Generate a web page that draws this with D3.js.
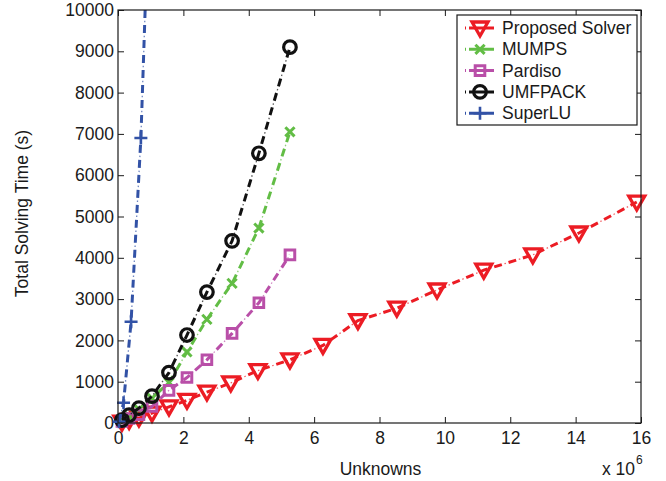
<!DOCTYPE html>
<html>
<head>
<meta charset="utf-8">
<script src="https://cdn.jsdelivr.net/npm/d3@7"></script>
<style>
  body { margin: 0; background: #fff; }
  text { font-family: "Liberation Sans", Arial, Helvetica, sans-serif; fill: #1a1a1a; }
</style>
</head>
<body>
<div id="chart"></div>
<script>
// data (unknowns in units of 10^6, time in s)
var seriesNames = ['Proposed Solver', 'MUMPS', 'Pardiso', 'UMFPACK', 'SuperLU'];
var unknownsDirect = [0.12, 0.34, 0.64, 1.04, 1.56, 2.11, 2.72, 3.49, 4.31, 5.26];
var unknownsProposed = [0.12, 0.34, 0.64, 1.04, 1.56, 2.11, 2.72, 3.45, 4.28, 5.26,
                        6.27, 7.34, 8.53, 9.76, 11.19, 12.69, 14.1, 15.87];
var unknownsSuperLU = [0.03, 0.17, 0.4, 0.7, 1.04];
var timeProposed = [20, 60, 120, 240, 390, 550, 750, 970, 1270, 1530,
                    1880, 2480, 2780, 3220, 3700, 4070, 4600, 5350];
var timeMUMPS = [60, 170, 330, 600, 980, 1720, 2510, 3380, 4720, 7050];
var timePardiso = [40, 110, 200, 400, 790, 1100, 1530, 2170, 2910, 4070];
var timeUMFPACK = [70, 190, 360, 650, 1220, 2130, 3170, 4410, 6530, 9100];
var timeSuperLU = [30, 490, 2450, 6900, 15000];
var xTicks = [0, 2, 4, 6, 8, 10, 12, 14, 16];
var yTicks = [0, 1000, 2000, 3000, 4000, 5000, 6000, 7000, 8000, 9000, 10000];

(function(d3) {
  'use strict';
  var width = 666;
  var height = 481;
  var left = 118, right = 641, top = 10, bottom = 423;
  var tickLen = 6;
  var fontSize = '17.5px';

  var colors = ['#ec1c24', '#62bd45', '#b94fa8', '#111111', '#3252a6'];
  var markers = ['tri', 'x', 'square', 'circle', 'plus'];

  // series table built from the arrays above
  var series = [
    { xs: unknownsProposed, ys: timeProposed },
    { xs: unknownsDirect, ys: timeMUMPS },
    { xs: unknownsDirect, ys: timePardiso },
    { xs: unknownsDirect, ys: timeUMFPACK },
    { xs: unknownsSuperLU, ys: timeSuperLU }
  ].map(function(s, i) {
    return {
      name: seriesNames[i],
      color: colors[i],
      marker: markers[i],
      points: s.xs.map(function(v, j) { return [v, s.ys[j]]; })
    };
  });

  var x = d3.scaleLinear().domain([0, 16]).range([left, right]);
  var y = d3.scaleLinear().domain([0, 10000]).range([bottom, top]);

  var svg = d3.select('#chart')
    .append('svg')
      .attr('width', width)
      .attr('height', height);

  svg.append('defs').append('clipPath')
      .attr('id', 'plotClip')
    .append('rect')
      .attr('x', left)
      .attr('y', top)
      .attr('width', right - left)
      .attr('height', bottom - top);

  // marker shapes (MATLAB style, unfilled)
  var shapePath = {
    tri: 'M-8,-6L8,-6L0,8Z',
    square: 'M-4.8,-4.8H4.8V4.8H-4.8Z',
    circle: 'M6.3,0A6.3,6.3 0 1,1 -6.3,0A6.3,6.3 0 1,1 6.3,0Z',
    x: 'M-4.6,-4.6L4.6,4.6M-4.6,4.6L4.6,-4.6',
    plus: 'M-6.5,0H6.5M0,-6.5V6.5'
  };
  var shapeStroke = { tri: 3.3, square: 3, circle: 3.2, x: 3, plus: 2.6 };

  // axes: inward ticks on all four sides
  function styleAxis(g) {
    g.select('.domain').remove();
    g.selectAll('.tick line').attr('stroke', '#1a1a1a').attr('stroke-width', 1);
    g.selectAll('.tick text').style('font-size', fontSize).attr('fill', '#1a1a1a');
  }

  svg.append('g')
      .attr('transform', 'translate(0,' + bottom + ')')
      .call(d3.axisBottom(x).tickValues(xTicks).tickSize(-tickLen).tickSizeOuter(0).tickPadding(9))
      .call(styleAxis);
  svg.append('g')
      .attr('transform', 'translate(0,' + top + ')')
      .call(d3.axisTop(x).tickValues(xTicks).tickSize(-tickLen).tickSizeOuter(0).tickFormat(''))
      .call(styleAxis);
  svg.append('g')
      .attr('transform', 'translate(' + left + ',0)')
      .call(d3.axisLeft(y).tickValues(yTicks).tickFormat(d3.format('d'))
        .tickSize(-tickLen).tickSizeOuter(0).tickPadding(4))
      .call(styleAxis);
  svg.append('g')
      .attr('transform', 'translate(' + right + ',0)')
      .call(d3.axisRight(y).tickValues(yTicks).tickSize(-tickLen).tickSizeOuter(0).tickFormat(''))
      .call(styleAxis);

  // dash-dot line: thick dashes plus thin dots
  function dashDot(sel, color) {
    sel.append('path')
      .attr('fill', 'none')
      .attr('stroke', color)
      .attr('stroke-width', 3)
      .attr('stroke-dasharray', '8,7');
    sel.append('path')
      .attr('fill', 'none')
      .attr('stroke', color)
      .attr('stroke-width', 1.3)
      .attr('stroke-opacity', 0.7)
      .attr('stroke-dasharray', '1.5,13.5')
      .attr('stroke-dashoffset', 4.25);
  }

  var line = d3.line()
    .x(function(d) { return x(d[0]); })
    .y(function(d) { return y(d[1]); });

  var plot = svg.append('g');

  series.forEach(function(s) {
    var g = plot.append('g');
    var lg = g.append('g').attr('clip-path', 'url(#plotClip)');
    dashDot(lg, s.color);
    lg.selectAll('path').datum(s.points).attr('d', line);

    g.selectAll('.mk')
      .data(s.points.filter(function(d) { return d[1] <= y.domain()[1]; }))
      .enter()
      .append('path')
        .attr('class', 'mk')
        .attr('transform', function(d) { return 'translate(' + x(d[0]) + ',' + y(d[1]) + ')'; })
        .attr('d', shapePath[s.marker])
        .attr('fill', 'none')
        .attr('stroke', s.color)
        .attr('stroke-width', shapeStroke[s.marker]);
  });

  // box
  svg.append('rect')
      .attr('x', left)
      .attr('y', top)
      .attr('width', right - left)
      .attr('height', bottom - top)
      .attr('fill', 'none')
      .attr('stroke', '#1a1a1a')
      .attr('stroke-width', 1.2);

  // axis titles
  svg.append('text')
      .attr('x', (left + right) / 2 + 1)
      .attr('y', 475)
      .attr('text-anchor', 'middle')
      .style('font-size', fontSize)
      .text('Unknowns');

  svg.append('text')
      .attr('transform', 'translate(28,' + ((top + bottom) / 2 - 3) + ') rotate(-90)')
      .attr('text-anchor', 'middle')
      .style('font-size', fontSize)
      .text('Total Solving Time (s)');

  var expo = svg.append('text')
      .attr('x', 602)
      .attr('y', 475)
      .style('font-size', fontSize)
      .text('x 10');
  expo.append('tspan')
      .attr('dy', -11)
      .attr('dx', 1)
      .style('font-size', '12px')
      .text('6');

  // legend
  var legX = 457, legY = 15, legW = 180, legH = 110;
  var rowH = 21.3;
  var legendBox = svg.append('g');
  legendBox.append('rect')
      .attr('x', legX)
      .attr('y', legY)
      .attr('width', legW)
      .attr('height', legH)
      .attr('fill', '#fff')
      .attr('stroke', '#1a1a1a')
      .attr('stroke-width', 1.2);

  var legend = legendBox.selectAll('.legend')
    .data(series)
    .enter()
    .append('g')
      .attr('class', 'legend')
      .attr('transform', function(d, i) {
        return 'translate(' + (legX + 8) + ',' + (legY + 13 + i * rowH) + ')';
      });

  legend.each(function(s) {
    var g = d3.select(this);
    g.append('path')
      .attr('d', 'M0,0H29')
      .attr('fill', 'none')
      .attr('stroke', s.color)
      .attr('stroke-width', 3)
      .attr('stroke-dasharray', '1,3,25');
    g.append('path')
      .attr('transform', 'translate(15,0)')
      .attr('d', shapePath[s.marker])
      .attr('fill', 'none')
      .attr('stroke', s.color)
      .attr('stroke-width', shapeStroke[s.marker]);
  });

  legend.append('text')
      .attr('x', 37)
      .attr('y', 0)
      .attr('dy', '0.35em')
      .style('font-size', fontSize)
      .text(function(d) { return d.name; });
})(window.d3);
</script>
</body>
</html>
